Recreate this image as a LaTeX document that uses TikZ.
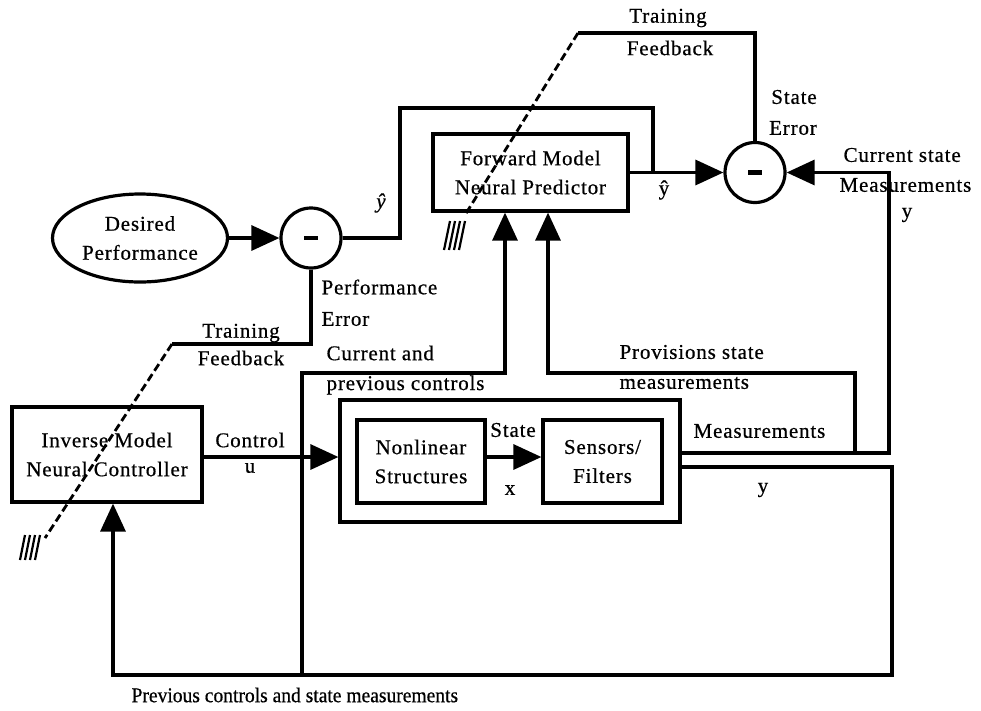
\documentclass[tikz,border=0pt]{standalone}
\usepackage{fontspec}
\setmainfont[LetterSpace=4,FakeBold=0.6]{Liberation Serif}
\newfontfamily\tightfont[FakeBold=0.6,FakeStretch=0.93]{Liberation Serif}
\usetikzlibrary{arrows.meta,shapes.geometric}
\begin{document}
\begin{tikzpicture}[x=1pt,y=-1pt,
 line width=3.2pt, line join=miter,
 every node/.style={font=\fontsize{21}{29}\selectfont, inner sep=0pt},
 box/.style={draw, line width=3.2pt, rectangle, align=center},
 sum/.style={draw, circle, minimum size=60pt, line width=3.2pt},
 arr/.style={-{Triangle[length=28pt,width=25pt]}},
 fb/.style={line width=2.8pt, dash pattern=on 8pt off 4pt},
 hatch/.style={line width=2.2pt}]
\useasboundingbox (0,0) rectangle (981,710);

% blocks
\node[box, minimum width=195pt, minimum height=77pt] (fwd) at (530.5,172.5) {Forward Model\\Neural Predictor};
\node[sum] (serr) at (755,172.5) {\rule{14pt}{4.5pt}};
\node[sum] (perr) at (311,238) {\rule{14pt}{4.5pt}};
\node[draw, ellipse, minimum width=175pt, minimum height=88pt, align=center] (des) at (140,238) {Desired\\Performance};
\node[box, minimum width=190pt, minimum height=95pt] (inv) at (107,454.5) {Inverse Model\\Neural Controller};
\node[box, minimum width=340pt, minimum height=122pt] (plant) at (510,461) {};
\node[box, minimum width=128pt, minimum height=83pt] (nl) at (421,461.5) {Nonlinear\\Structures};
\node[box, minimum width=119pt, minimum height=83pt] (sf) at (602.5,461.5) {Sensors/\\Filters};

% coordinates
\coordinate (c1) at (400,108);
\coordinate (c2) at (653,108);
\coordinate (t1) at (578,33);
\coordinate (t2) at (465,215);
\coordinate (p1) at (172,344);
\coordinate (p2) at (45,538);
\coordinate (yc) at (0,457);
\coordinate (pc) at (505,373);
\coordinate (pv) at (548,373);
\coordinate (mj) at (855,453);
\coordinate (mr) at (889,453);
\coordinate (yr) at (892,467);
\coordinate (br) at (892,675);
\coordinate (bl) at (113,675);
\coordinate (bm) at (302,675);

% connectors
\draw[arr] (des) -- (perr);
\draw (perr.east) -| (c1) -- (c2) -- (c2 |- fwd.east);
\draw[arr] (fwd) -- (serr);
\draw (serr.north) |- (t1);
\draw (perr.south) |- (p1);
\draw[arr] (inv.east |- yc) -- (plant.west |- yc);
\draw[arr] (nl.east |- yc) -- (sf.west |- yc);
\draw[arr] (bm) |- (pc) -- (pc |- fwd.south);
\draw[arr] (mj) |- (pv) -- (pv |- fwd.south);
\draw[arr] (plant.east |- mr) -- (mr) |- (serr.east);
\draw[arr] (plant.east |- yr) -| (br) -- (bl) -- (bl |- inv.south);

% training feedback (dashed) with ground hatches
\draw[fb] (t1) -- (t2);
\draw[fb] (p1) -- (p2);
\foreach \i in {0,1,2,3} \draw[hatch] ({444+5*\i},250) -- ({450+5*\i},221);
\foreach \i in {0,1,2,3} \draw[hatch] ({20+5*\i},560) -- ({25+5*\i},535);

% labels
\node (tfa) at (668,18) {Training};
\node (tfb) at (670,48) {Feedback};
\node (sea) at (794,97) {State};
\node (seb) at (793,128) {Error};
\node[anchor=west] (csa) at (842,155) {Current state};
\node[anchor=west] (csb) at (838,185) {Measurements};
\node (csy) at (907,215) {y};
\node (yh) at (664,190) {ŷ};
\node (yd) at (381,203) {\itshape ŷ};
\node[anchor=west] (pea) at (320,287) {Performance};
\node[anchor=west] (peb) at (320,319) {Error};
\node (tla) at (241,333) {Training};
\node (tlb) at (241,358) {Feedback};
\node[anchor=west] (cpa) at (325,353) {Current and};
\node[anchor=west] (cpb) at (325,385) {previous controls};
\node[anchor=west] (psa) at (618,352) {Provisions state};
\node[anchor=west] (psb) at (618,383) {measurements};
\node[anchor=west] (ms) at (692,431) {Measurements};
\node (ly) at (763,490) {y};
\node (ca) at (250,440) {Control};
\node (cb) at (250,468) {u};
\node (st) at (513,430) {State};
\node (sx) at (510,490) {x};
\node[anchor=west, font=\tightfont\fontsize{21}{24}\selectfont] (prev) at (130,695) {Previous controls and state measurements};
\end{tikzpicture}
\end{document}
